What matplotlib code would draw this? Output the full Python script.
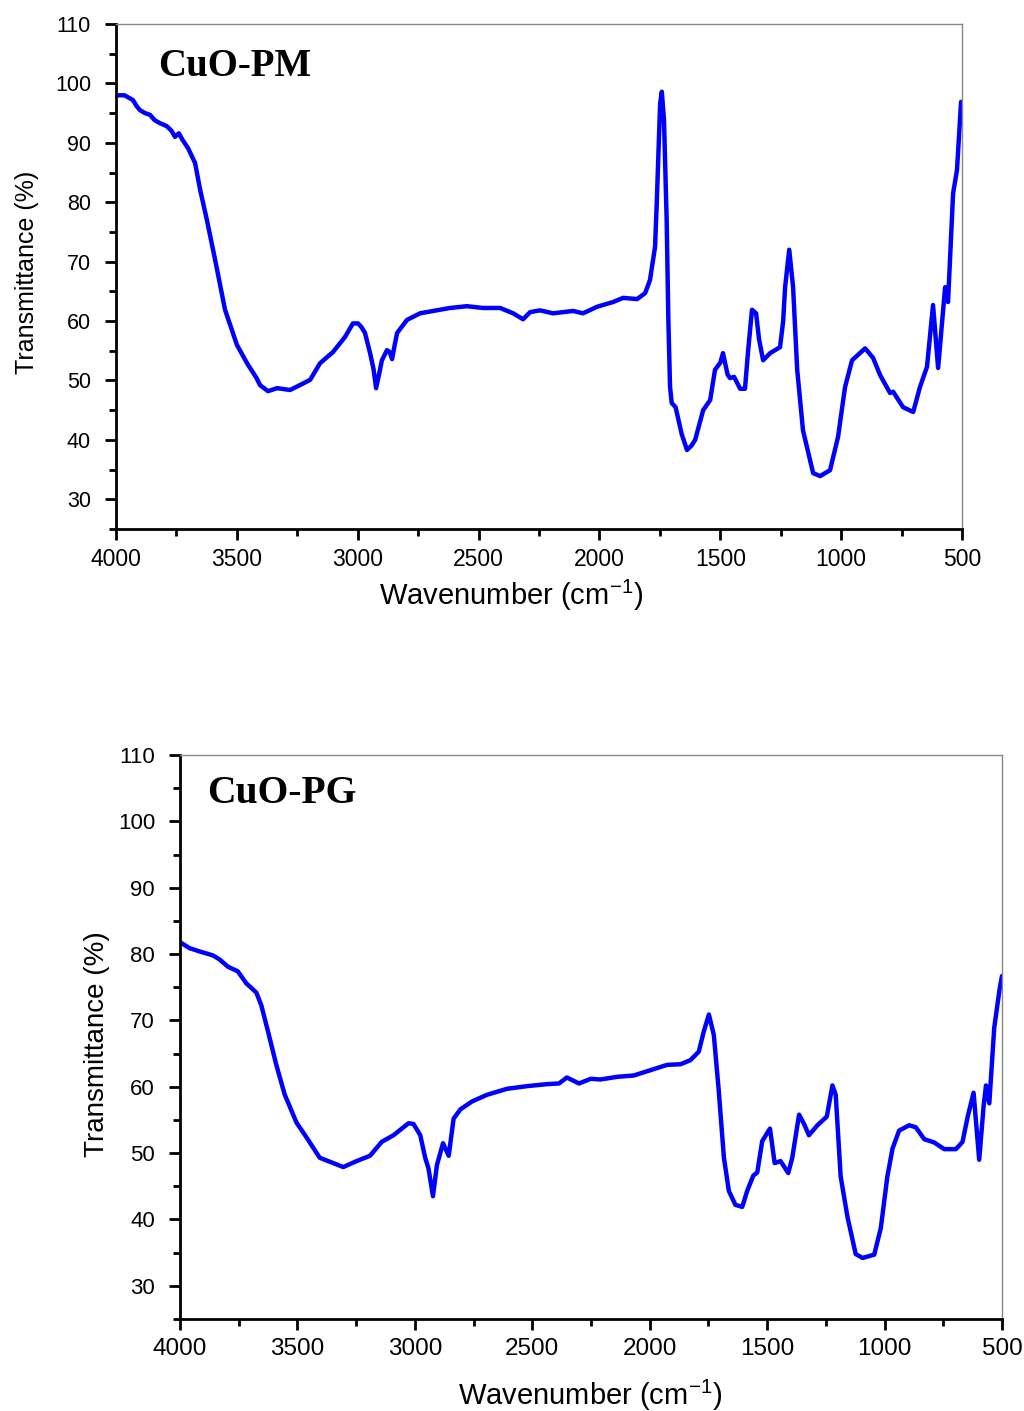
import matplotlib
matplotlib.use('Agg')
import matplotlib.pyplot as plt
from matplotlib.ticker import MultipleLocator

plt.rcParams['font.family'] = ['Liberation Sans', 'DejaVu Sans']
plt.rcParams['mathtext.default'] = 'regular'

# CuO-PM spectrum
pm_wavenumber = [4000, 3965, 3930, 3915, 3901, 3880, 3859, 3840, 3818, 3790, 3770, 3756, 3740, 3725,
                 3702, 3673, 3652, 3624, 3590, 3549, 3500, 3458, 3420, 3404, 3371, 3334, 3280, 3240,
                 3197, 3156, 3102, 3053, 3020, 2999, 2985, 2970, 2949, 2935, 2924, 2912, 2900, 2879,
                 2868, 2858, 2847, 2837, 2796, 2742, 2688, 2618, 2548, 2482, 2411, 2357, 2316, 2287,
                 2246, 2192, 2109, 2068, 2010, 1944, 1902, 1844, 1811, 1791, 1770, 1763, 1756, 1749,
                 1742, 1733, 1722, 1715, 1708, 1701, 1685, 1660, 1638, 1620, 1604, 1571, 1542, 1522,
                 1500, 1489, 1470, 1460, 1443, 1418, 1398, 1385, 1369, 1352, 1340, 1323, 1294, 1253,
                 1240, 1232, 1215, 1199, 1182, 1158, 1116, 1087, 1046, 1013, 984, 955, 901, 868, 839,
                 798, 785, 744, 702, 674, 645, 620, 599, 570, 558, 537, 521, 504]
pm_transmittance = [98.0, 98.0, 97.2, 96.2, 95.5, 95.0, 94.7, 93.8, 93.3, 92.8, 92.0, 91.0, 91.6, 90.5,
                    89.1, 86.6, 82.1, 77.0, 70.3, 61.9, 56.0, 52.9, 50.5, 49.2, 48.2, 48.7, 48.4, 49.2,
                    50.1, 52.9, 54.8, 57.3, 59.6, 59.6, 59.0, 58.0, 54.6, 52.0, 48.7, 51.0, 53.4, 55.1,
                    54.8, 53.6, 56.0, 58.0, 60.2, 61.3, 61.7, 62.2, 62.5, 62.2, 62.2, 61.3, 60.3, 61.5,
                    61.8, 61.3, 61.7, 61.3, 62.4, 63.2, 63.9, 63.7, 64.7, 66.9, 72.5, 79.8, 88.3, 96.6,
                    98.6, 93.8, 77.0, 60.2, 48.9, 46.2, 45.5, 41.0, 38.3, 39.0, 40.0, 45.0, 46.7, 51.8,
                    53.0, 54.6, 51.0, 50.4, 50.6, 48.6, 48.6, 55.0, 61.9, 61.3, 57.0, 53.4, 54.6, 55.6,
                    60.0, 65.7, 72.0, 65.7, 51.8, 41.6, 34.4, 33.9, 34.9, 40.5, 48.9, 53.4, 55.4, 53.8, 50.9,
                    47.9, 48.1, 45.5, 44.7, 48.9, 52.3, 62.7, 52.1, 65.7, 63.2, 81.5, 85.4, 96.9]

# CuO-PG spectrum
pg_wavenumber = [4000, 3960, 3917, 3860, 3832, 3796, 3754, 3718, 3675, 3654, 3625, 3590, 3554, 3504,
                 3462, 3405, 3362, 3305, 3248, 3191, 3141, 3091, 3027, 3006, 2977, 2956, 2942, 2923,
                 2906, 2880, 2856, 2835, 2806, 2756, 2692, 2607, 2521, 2436, 2386, 2353, 2301, 2251,
                 2210, 2139, 2068, 1997, 1926, 1869, 1827, 1791, 1770, 1748, 1727, 1706, 1684, 1663,
                 1635, 1606, 1585, 1559, 1542, 1521, 1488, 1468, 1443, 1410, 1393, 1364, 1343, 1322,
                 1286, 1246, 1222, 1208, 1187, 1158, 1123, 1094, 1044, 1016, 988, 966, 938, 895, 867,
                 831, 788, 746, 696, 668, 646, 621, 597, 578, 568, 554, 533, 511, 500]
pg_transmittance = [81.8, 80.9, 80.4, 79.8, 79.2, 78.1, 77.4, 75.6, 74.2, 72.3, 68.3, 63.3, 58.8, 54.6,
                    52.4, 49.3, 48.7, 47.9, 48.8, 49.6, 51.7, 52.7, 54.5, 54.4, 52.7, 49.3, 47.7, 43.5,
                    48.2, 51.5, 49.6, 55.2, 56.6, 57.8, 58.8, 59.7, 60.1, 60.4, 60.5, 61.4, 60.5, 61.2,
                    61.1, 61.5, 61.7, 62.5, 63.3, 63.4, 64.0, 65.3, 68.3, 70.9, 67.8, 59.4, 49.3, 44.3,
                    42.2, 41.9, 44.3, 46.6, 47.1, 51.8, 53.7, 48.5, 48.8, 47.0, 49.3, 55.8, 54.4, 52.7,
                    54.2, 55.5, 60.2, 58.8, 46.5, 40.4, 34.8, 34.2, 34.7, 38.7, 46.5, 50.7, 53.4, 54.2, 53.9,
                    52.1, 51.6, 50.6, 50.6, 51.7, 55.5, 59.1, 49.0, 57.2, 60.2, 57.5, 68.9, 74.5, 76.7]

x_ticks = [4000, 3500, 3000, 2500, 2000, 1500, 1000, 500]
y_ticks = [30, 40, 50, 60, 70, 80, 90, 100, 110]


def draw_panel(ax, wn, tr, name, name_pos, name_size, tick_x, tick_y, lab_x, lab_y, xlab_pos, ylab_pos):
    ax.plot(wn, tr, color='#0000ff', lw=3.2, solid_joinstyle='round', solid_capstyle='round')
    ax.set_xlim(4000, 500)
    ax.set_ylim(25, 110)
    ax.set_xticks(x_ticks)
    ax.set_yticks(y_ticks)
    ax.xaxis.set_minor_locator(MultipleLocator(250))
    ax.yaxis.set_minor_locator(MultipleLocator(5))
    ax.tick_params(which='both', direction='out', width=2, top=False, right=False)
    ax.tick_params(which='major', length=8)
    ax.tick_params(which='minor', length=5)
    ax.tick_params(axis='x', labelsize=tick_x, pad=6)
    ax.tick_params(axis='y', labelsize=tick_y, pad=10)
    for s in ['left', 'bottom']:
        ax.spines[s].set_linewidth(2)
    for s in ['top', 'right']:
        ax.spines[s].set_linewidth(1)
        ax.spines[s].set_color('#888888')

    ax.set_xlabel('Wavenumber (cm$^{-1}$)', fontsize=lab_x)
    ax.set_ylabel('Transmittance (%)', fontsize=lab_y)
    ax.xaxis.set_label_coords(*xlab_pos)
    ax.xaxis.label.set_verticalalignment('center')
    ax.yaxis.set_label_coords(*ylab_pos)
    ax.yaxis.label.set_verticalalignment('center')

    ax.text(name_pos[0], name_pos[1], name, transform=ax.transAxes, fontsize=name_size,
            fontweight='bold', family='Liberation Serif', va='baseline', ha='left')


fig = plt.figure(figsize=(10.24, 14.11), dpi=100)
ax1 = fig.add_axes([0.1133, 0.6251, 0.8262, 0.3579])
ax2 = fig.add_axes([0.1758, 0.0652, 0.8027, 0.3997])

draw_panel(ax1, pm_wavenumber, pm_transmittance, 'CuO-PM', (0.05, 0.897), 28,
           16.5, 15.5, 21, 18, (0.467, -0.131), (-0.105, 0.509))
draw_panel(ax2, pg_wavenumber, pg_transmittance, 'CuO-PG', (0.033, 0.915), 28.5,
           17.5, 16, 21, 20, (0.499, -0.135), (-0.101, 0.488))

fig.savefig('out.png', dpi=100)
